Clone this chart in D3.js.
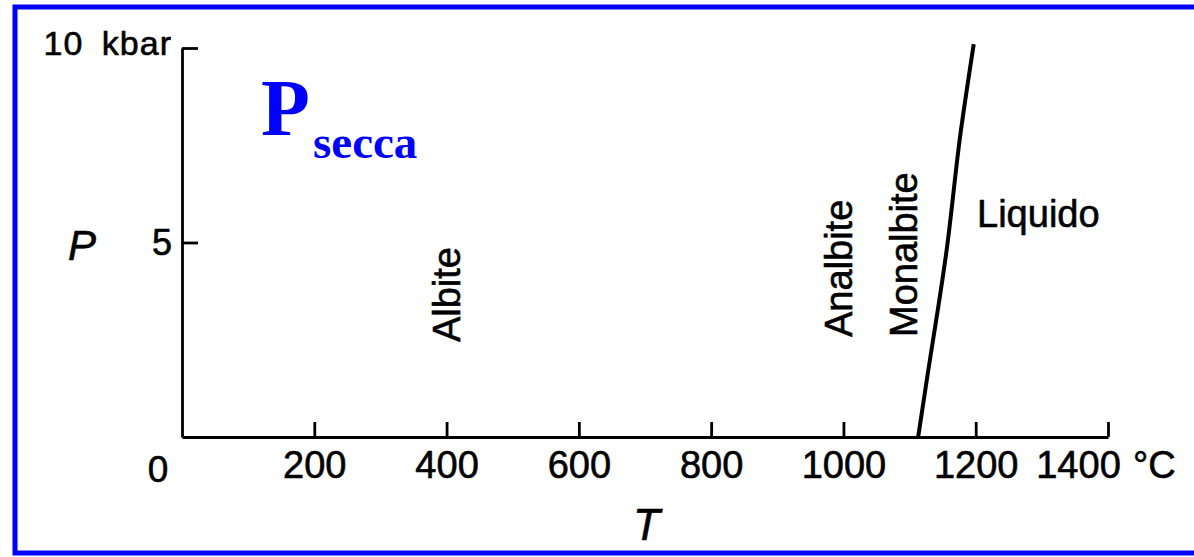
<!DOCTYPE html>
<html>
<head>
<meta charset="utf-8">
<script src="https://cdn.jsdelivr.net/npm/d3@7"></script>
<style>
body { margin: 0; background: #fff; }
svg { display: block; }
text { font-family: "Liberation Sans", Arial, sans-serif; fill: #000; }
</style>
</head>
<body>
<svg width="1194" height="557"></svg>
<script>
// phase boundary Monalbite / Liquido (T in °C, P in kbar)
const boundaryT = [1113, 1125, 1156, 1177, 1197]
const boundaryP = [0, 1.35, 4.8, 7.8, 10.1]

const xTicks = [200, 400, 600, 800, 1000, 1200, 1400]
const yTicks = [5, 10]

// field names and where they sit (T, P)
const fieldNames = ["Albite", "Analbite", "Monalbite"]
const fieldT = [420, 1013, 1111]
const fieldP = [2.44, 2.57, 2.57]

const svg = d3.select("svg")

const x = d3.scaleLinear().domain([0, 1400]).range([182, 1108])
const y = d3.scaleLinear().domain([0, 10]).range([437, 48])

// blue frame
svg.append("rect")
  .attr("x", 15).attr("y", 7)
  .attr("width", 1200).attr("height", 546)
  .attr("fill", "#fff")
  .attr("stroke", "#0000ff")
  .attr("stroke-width", 5)

// axes
const gx = svg.append("g")
  .attr("transform", "translate(0," + y(0) + ")")
  .call(d3.axisBottom(x).tickValues(xTicks).tickSize(-15).tickSizeOuter(0).tickPadding(14).tickFormat(d3.format("d")))

const gy = svg.append("g")
  .attr("transform", "translate(" + x(0) + ",0)")
  .call(d3.axisLeft(y).tickValues(yTicks).tickSize(-16).tickSizeOuter(0).tickPadding(10)
    .tickFormat(d => d === 10 ? "10 kbar" : d))

svg.selectAll(".domain, .tick line")
  .attr("stroke", "#000")
  .attr("stroke-width", 2.8)

svg.selectAll(".tick text")
  .style("font-family", "Liberation Sans, Arial, sans-serif")
  .style("stroke", "#000")
  .style("stroke-width", 0.6)
gx.selectAll("text").style("font-size", "38px")
// the 1400 label sits left of its tick, next to °C
gx.selectAll("text").filter(d => d === 1400).attr("dx", -30)

gy.selectAll("text").style("font-size", "36px")
gy.selectAll("text").filter(d => d === 10)
  .attr("dy", "0.2em")
  .style("font-size", "34px")
  .style("word-spacing", "8px")
  .style("letter-spacing", "1px")

// origin 0
svg.append("text")
  .attr("class", "lbl")
  .attr("x", x(0) - 24).attr("y", y(0) + 45)
  .attr("text-anchor", "middle")
  .style("font-size", "37px")
  .text("0")

// °C unit
svg.append("text")
  .attr("class", "lbl")
  .attr("x", x(1400) + 25).attr("y", y(0) + 41)
  .style("font-size", "38px")
  .text("°C")

// axis titles
svg.append("text")
  .attr("class", "lbl")
  .attr("x", 68).attr("y", y(5) + 17)
  .style("font-size", "42px")
  .style("font-style", "italic")
  .text("P")

svg.append("text")
  .attr("class", "lbl")
  .attr("x", x(700) - 12).attr("y", 540)
  .style("font-size", "44px")
  .style("font-style", "italic")
  .text("T")

// boundary line
const line = d3.line()
  .curve(d3.curveMonotoneY)
  .x(d => x(d[0]))
  .y(d => y(d[1]))

svg.append("path")
  .datum(boundaryT.map((t, i) => [t, boundaryP[i]]))
  .attr("d", line)
  .attr("fill", "none")
  .attr("stroke", "#000")
  .attr("stroke-width", 4)

// vertical field names
svg.selectAll(".field")
  .data(fieldNames)
  .join("text")
  .attr("class", "field lbl")
  .attr("transform", (d, i) => "translate(" + x(fieldT[i]) + "," + y(fieldP[i]) + ") rotate(-90)")
  .style("font-size", "38px")
  .text(d => d)

svg.append("text")
  .attr("class", "lbl")
  .attr("x", x(1202)).attr("y", y(5.4))
  .style("font-size", "38px")
  .text("Liquido")

svg.selectAll(".lbl")
  .style("stroke", "#000")
  .style("stroke-width", 0.6)

// title P secca
const title = svg.append("text")
  .attr("x", 261).attr("y", 135)
  .style("font-family", "Liberation Serif, Times New Roman, serif")
  .style("font-weight", "bold")
  .style("fill", "#0000ff")
title.append("tspan")
  .style("font-size", "80px")
  .style("fill", "#0000ff")
  .text("P")
title.append("tspan")
  .attr("x", 313).attr("y", 158)
  .style("font-size", "47px")
  .style("fill", "#0000ff")
  .text("secca")
</script>
</body>
</html>
